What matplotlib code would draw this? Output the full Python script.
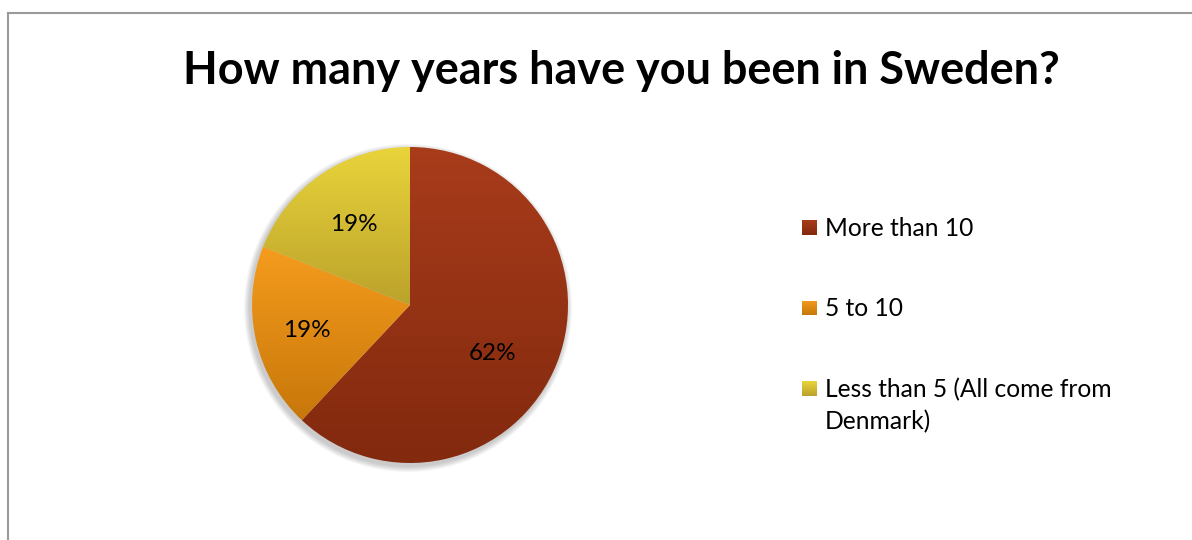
import numpy as np
import matplotlib
matplotlib.use("Agg")
import matplotlib.pyplot as plt
from matplotlib.colors import LinearSegmentedColormap
from matplotlib.patches import Circle, Rectangle
from matplotlib.lines import Line2D

plt.rcParams['font.family'] = ['Lato', 'DejaVu Sans']

# survey answers, share of respondents in percent
categories = ['More than 10', '5 to 10', 'Less than 5 (All come from\nDenmark)']
shares = [62, 19, 19]
# top / bottom shade for each slice
top_colors = ['#A83C1B', '#F59C1D', '#E9D43B']
bottom_colors = ['#82290E', '#C7770A', '#BBA22B']
title = 'How many years have you been in Sweden?'

W, H = 1192, 540
fig = plt.figure(figsize=(W / 100, H / 100), dpi=100)
fig.patch.set_facecolor('white')

# chart area border (only left and top edges are visible)
border = '#9a9a9a'
fig.add_artist(Line2D([8 / W, 8 / W], [0, 1 - 13 / H], color=border, lw=1.5))
fig.add_artist(Line2D([8 / W, 1], [1 - 13 / H, 1 - 13 / H], color=border, lw=1.5))

ax = fig.add_axes([0, 0, 1, 1])
ax.axis('off')

cx, cy, r = 410, H - 305, 158

# soft shadow under the pie
for k in range(6):
    ax.add_patch(Circle((cx - 2, cy - 3), r + 1 + k, color='black',
                        alpha=0.035, lw=0, zorder=0))

wedges, texts, autotexts = ax.pie(
    shares, center=(cx, cy), radius=r, startangle=90, counterclock=False,
    autopct=lambda p: f'{p:.0f}%', pctdistance=0.63,
    wedgeprops=dict(linewidth=0), textprops=dict(fontsize=17.5, color='black'))

def shade(top, bottom):
    return LinearSegmentedColormap.from_list('s', [bottom, top])

grad = np.linspace(0, 1, 256).reshape(-1, 1)
for w, t, b in zip(wedges, top_colors, bottom_colors):
    ext = w.get_path().get_extents()
    w.set_facecolor('none')
    im = ax.imshow(grad, cmap=shade(t, b), origin='lower', aspect='auto',
                   extent=(ext.x0, ext.x1, ext.y0, ext.y1), zorder=1)
    im.set_clip_path(w)

# label placement inside each slice: radial factor and angle tweak
label_dist = [0.6, 0.67, 0.63]
label_turn = [-8, 0, 0]
for w, t, d, turn in zip(wedges, autotexts, label_dist, label_turn):
    mid = np.deg2rad((w.theta1 + w.theta2) / 2 + turn)
    t.set_position((cx + d * r * np.cos(mid), cy - 2 + d * r * np.sin(mid)))
    t.set_zorder(3)

ax.set_xlim(0, W)
ax.set_ylim(0, H)
ax.set_aspect('equal')

# legend
lx, ly0, dy = 802, H - 228, 80.5
for i, (name, t, b) in enumerate(zip(categories, top_colors, bottom_colors)):
    y = ly0 - i * dy
    sq = Rectangle((lx, y - 7), 15, 15, facecolor='none', lw=0)
    ax.add_patch(sq)
    im = ax.imshow(grad, cmap=shade(t, b), origin='lower', aspect='auto',
                   extent=(lx, lx + 15, y - 7, y + 8), zorder=2)
    im.set_clip_path(sq)
    ax.text(lx + 23, y + 11, name, fontsize=17.7, va='top', ha='left',
            linespacing=1.45)

ax.text(621, H - 71, title, fontsize=32.4, fontweight='bold', ha='center',
        va='center')

fig.savefig('out.png', dpi=100)
